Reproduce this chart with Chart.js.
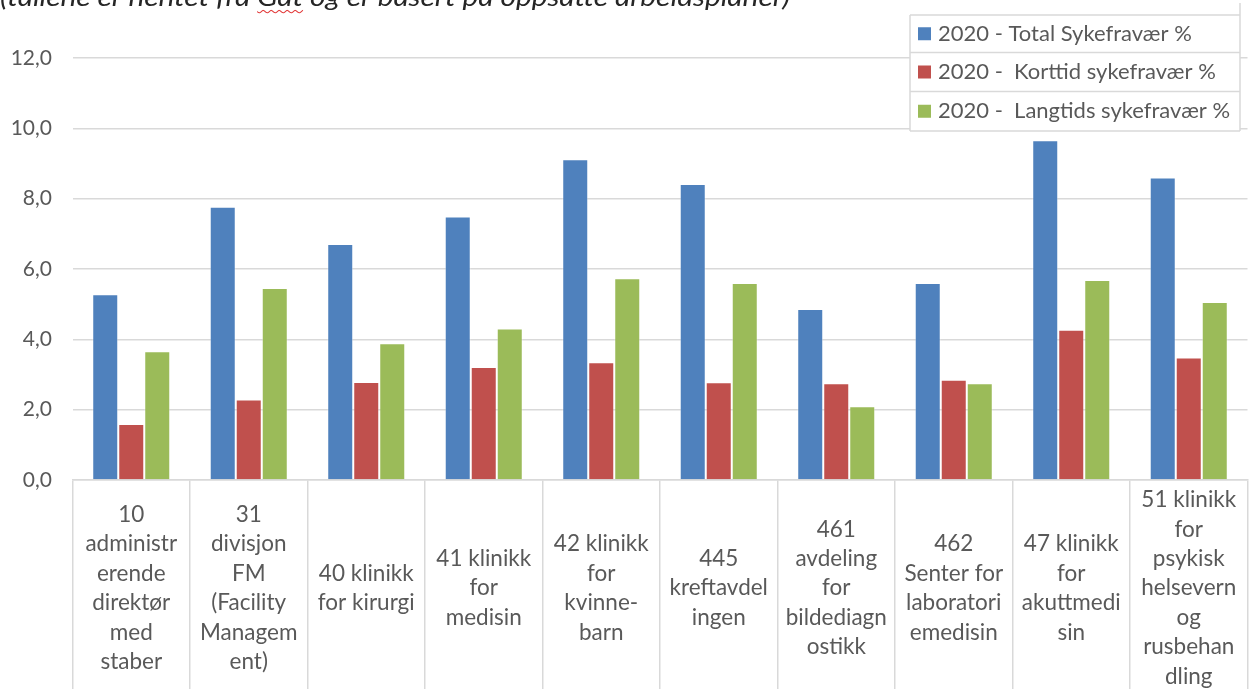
<!DOCTYPE html>
<html>
<head>
<meta charset="utf-8">
<script src="https://cdn.jsdelivr.net/npm/chart.js@4"></script>
<style>
  html, body { margin: 0; padding: 0; background: #fff; overflow: hidden; }
  #wrap { position: relative; width: 1251px; height: 689px; overflow: hidden; }
  canvas { position: absolute; left: 0; top: 0; }
  #note {
    position: absolute; left: 0; top: -17px;
    font: italic 26px Lato, "Open Sans", sans-serif; line-height: 26px;
    color: #262626; white-space: nowrap; transform-origin: 0 0;
  }
  #note .sp {
    text-decoration: underline wavy #e23b3b;
    text-decoration-thickness: 1px;
    text-underline-offset: 3px;
  }
</style>
</head>
<body>
<div id="wrap">
  <canvas id="c" width="1251" height="689"></canvas>
  <div id="note">(tallene er hentet fra <span class="sp">Gat</span> og er basert på oppsatte arbeidsplaner)</div>
</div>
<script>
// Departments (multi-line category labels)
const categories = [
  ['10', 'administr', 'erende', 'direktør', 'med', 'staber'],
  ['31', 'divisjon', 'FM', '(Facility', 'Managem', 'ent)'],
  ['40 klinikk', 'for kirurgi'],
  ['41 klinikk', 'for', 'medisin'],
  ['42 klinikk', 'for', 'kvinne-', 'barn'],
  ['445', 'kreftavdel', 'ingen'],
  ['461', 'avdeling', 'for', 'bildediagn', 'ostikk'],
  ['462', 'Senter for', 'laboratori', 'emedisin'],
  ['47 klinikk', 'for', 'akuttmedi', 'sin'],
  ['51 klinikk', 'for', 'psykisk', 'helsevern', 'og', 'rusbehan', 'dling']
];

const seriesNames = [
  '2020 - Total Sykefravær %',
  '2020 -  Korttid sykefravær %',
  '2020 -  Langtids sykefravær %'
];

const totalValues    = [5.28, 7.77, 6.71, 7.49, 9.12, 8.42, 4.86, 5.60, 9.66, 8.60];
const korttidValues  = [1.59, 2.29, 2.79, 3.21, 3.35, 2.78, 2.75, 2.85, 4.27, 3.48];
const langtidsValues = [3.66, 5.46, 3.89, 4.31, 5.74, 5.60, 2.10, 2.75, 5.69, 5.06];

const seriesColors = ['#4F81BD', '#C0504D', '#9BBB59'];

const yMin = 0, yMax = 12, yStep = 2;

const FONT = 'Lato, "Open Sans", sans-serif';
const TEXT = '#595959';
const LINE = '#D9D9D9';

// Stretch the note line above the chart to its column width
(function fitNote() {
  const note = document.getElementById('note');
  const w = note.getBoundingClientRect().width;
  if (w > 0) note.style.transform = 'scaleX(' + (790 / w) + ')';
})();

// Boxed legend drawn over the top-right of the plot
const boxedLegend = {
  id: 'boxedLegend',
  afterDraw(chart) {
    const ctx = chart.ctx;
    const left = 910, right = 1240, rows = [15, 52.5, 91.5, 131];
    ctx.save();
    ctx.fillStyle = '#fff';
    ctx.fillRect(left, rows[0], right - left, rows[3] - rows[0]);
    ctx.strokeStyle = LINE;
    ctx.lineWidth = 1.5;
    ctx.beginPath();
    rows.forEach(y => { ctx.moveTo(left, y); ctx.lineTo(right, y); });
    ctx.moveTo(left, rows[0]); ctx.lineTo(left, rows[3]);
    ctx.moveTo(right, 3); ctx.lineTo(right, rows[3]);
    ctx.stroke();
    ctx.font = '22px ' + FONT;
    ctx.textBaseline = 'middle';
    ctx.textAlign = 'left';
    chart.data.datasets.forEach((ds, i) => {
      const cy = (rows[i] + rows[i + 1]) / 2;
      ctx.fillStyle = ds.backgroundColor;
      ctx.fillRect(918, cy - 6.5, 13, 13);
      ctx.fillStyle = TEXT;
      ctx.fillText(ds.label, 938, cy);
    });
    ctx.restore();
  }
};

new Chart(document.getElementById('c'), {
  type: 'bar',
  data: {
    labels: categories,
    datasets: [
      { label: seriesNames[0], data: totalValues,    backgroundColor: seriesColors[0] },
      { label: seriesNames[1], data: korttidValues,  backgroundColor: seriesColors[1] },
      { label: seriesNames[2], data: langtidsValues, backgroundColor: seriesColors[2] }
    ].map(d => Object.assign(d, {
      borderColor: 'rgba(255,255,255,0.35)',
      borderWidth: 1,
      categoryPercentage: 0.664,
      barPercentage: 1
    }))
  },
  options: {
    responsive: false,
    animation: false,
    devicePixelRatio: 1,
    layout: { padding: { top: 58, right: 3.5, bottom: 0, left: 0 } },
    plugins: {
      legend: { display: false },
      tooltip: { enabled: false }
    },
    scales: {
      x: {
        grid: {
          offset: true,
          drawOnChartArea: false,
          drawTicks: true,
          tickLength: 209,
          lineWidth: 1.5,
          color: ctx => (ctx.index === categories.length ? 'rgba(0,0,0,0)' : LINE)
        },
        border: { display: true, color: LINE, width: 1.5 },
        ticks: {
          autoSkip: false,
          maxRotation: 0,
          minRotation: 0,
          crossAlign: 'center',
          padding: -189,
          color: TEXT,
          font: { family: FONT, size: 22.5, lineHeight: 29.4 / 22.5 }
        },
        afterFit(scale) { scale.height = 209; }
      },
      y: {
        min: yMin,
        max: yMax,
        ticks: {
          stepSize: yStep,
          padding: 20.5,
          color: TEXT,
          font: { family: FONT, size: 21 },
          callback: v => v.toFixed(1).replace('.', ',')
        },
        grid: { drawTicks: false, color: LINE, lineWidth: 1.5 },
        border: { display: false },
        afterFit(scale) { scale.width = 72.5; }
      }
    }
  },
  plugins: [boxedLegend]
});
</script>
</body>
</html>
